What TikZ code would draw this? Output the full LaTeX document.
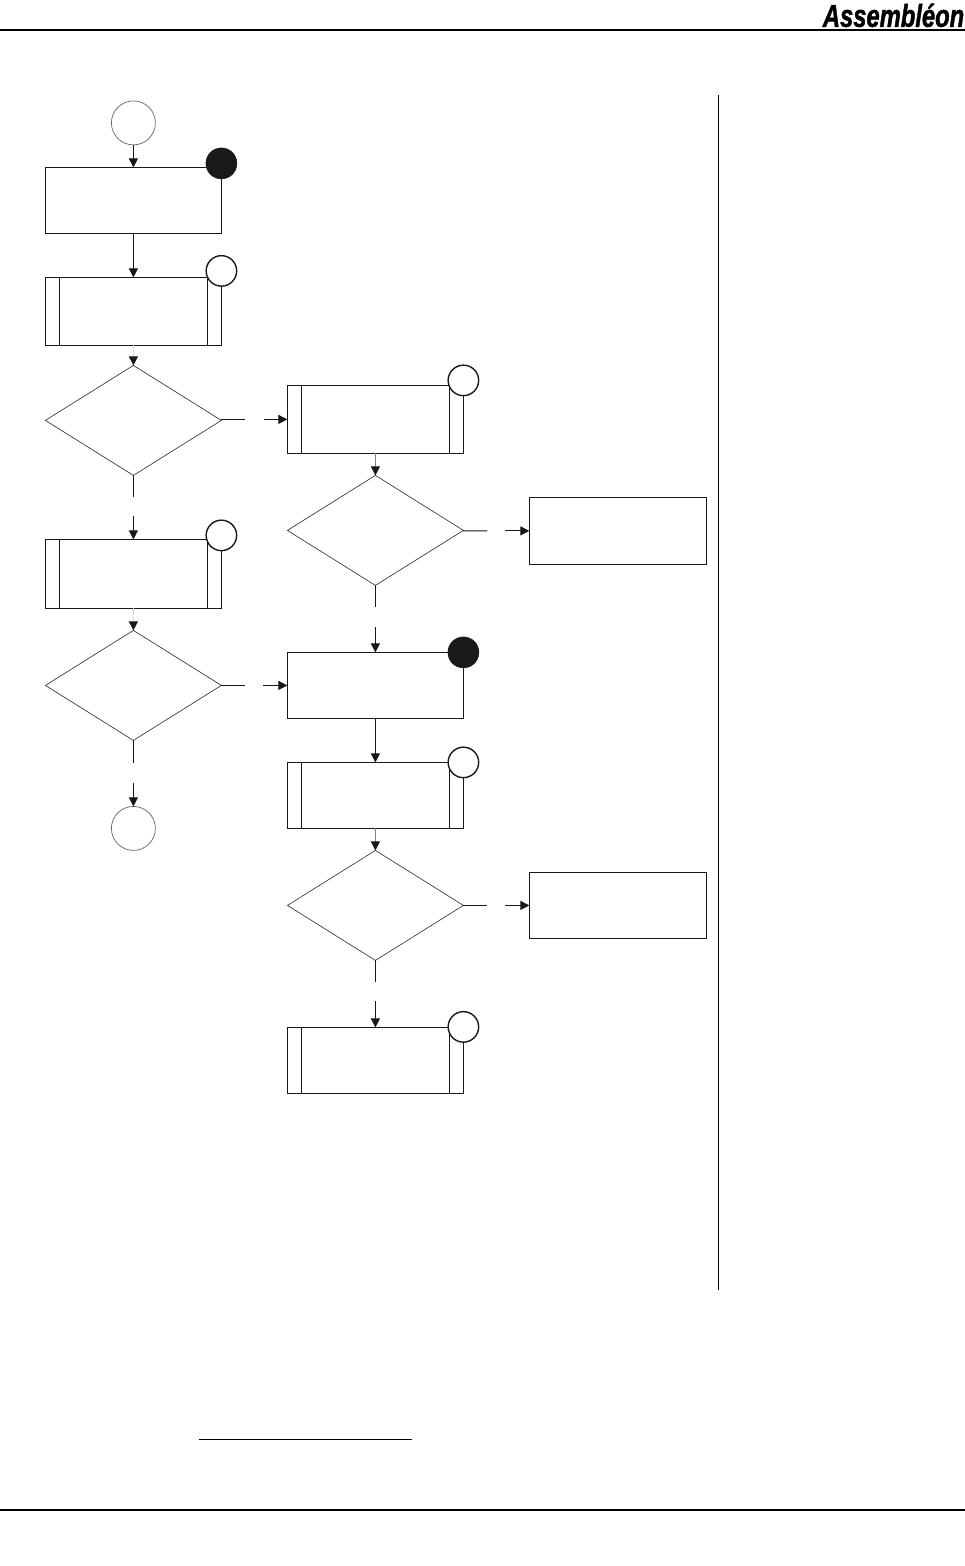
\documentclass[tikz,border=0pt]{standalone}
\usepackage{fontspec}
\setmainfont{Liberation Sans}
\newfontfamily\logofont{Liberation Sans Bold Italic}[FakeBold=1.6]
\usetikzlibrary{shapes.geometric,arrows.meta}
\tikzset{
  x=1pt,y=-1pt,
  boxnode/.style={draw=black!90,line width=0.9pt,rectangle,inner sep=0pt,outer sep=0pt,minimum width=176pt,minimum height=#1},
  boxnode/.default=67pt,
  subnode/.style={boxnode=#1,path picture={
    \draw[line width=0.9pt,draw=black!90] ([xshift=14pt]path picture bounding box.north west)--([xshift=14pt]path picture bounding box.south west);
    \draw[line width=0.9pt,draw=black!90] ([xshift=-14pt]path picture bounding box.north east)--([xshift=-14pt]path picture bounding box.south east);}},
  subnode/.default=68pt,
  decision/.style={draw=black!75,line width=0.7pt,diamond,aspect=1.6,inner sep=0pt,outer sep=0pt,minimum width=176pt,minimum height=110pt},
  term/.style={draw=black!60,line width=0.7pt,circle,fill=white,inner sep=0pt,outer sep=0pt,minimum size=44pt},
  markblack/.style={draw=black!90,fill=black!90,line width=0.5pt,circle,inner sep=0pt,outer sep=0pt,minimum size=31pt},
  markwhite/.style={draw=black!90,fill=white,line width=1.4pt,circle,inner sep=0pt,outer sep=0pt,minimum size=30.5pt},
  flow/.style={line width=0.9pt,draw=black!90,-{Triangle[length=9pt,width=9pt,color=black!90,fill=black!90]}},
  flowpale/.style={line width=0.9pt,draw=#1,-{Triangle[length=9pt,width=9pt,color=black!90,fill=black!90]}},
  flowpale/.default=black!15,
  plain/.style={line width=0.9pt,draw=black!90},
  rule/.style={line width=2pt,draw=black},
  thinrule/.style={line width=0.9pt,draw=black},
}
\begin{document}
\begin{tikzpicture}
\useasboundingbox (0,0) rectangle (965,1566);
\begin{scope}[shift={(0.4,0.4)}]
% page furniture
\coordinate (tl) at (-1,30); \coordinate (tr) at (966,30);
\coordinate (bl) at (-1,1510); \coordinate (br) at (966,1510);
\coordinate (vt) at (718,95); \coordinate (vb) at (718,1290);
\coordinate (fl) at (199,1439); \coordinate (fr) at (412,1439);
\draw[rule] (tl)--(tr);
\draw[rule] (bl)--(br);
\draw[thinrule] (vt)--(vb);
\draw[thinrule] (fl)--(fr);
\node[anchor=east,inner sep=0pt] (logo) at (964,15) {\scalebox{1.32}[1.75]{\logofont\fontsize{18}{18}\selectfont Assembl\'eon}};
% left column
\node[term] (start) at (133,122.5) {};
\node[boxnode=66pt] (b1) at (133,200) {};
\node[subnode=68pt] (s1) at (133,311) {};
\node[decision] (d1) at (133,420) {};
\node[subnode=69pt] (s2) at (133,573.5) {};
\node[decision] (d2) at (133,685) {};
\node[term] (end) at (133,828) {};
% middle column
\node[subnode=68pt] (s3) at (375,419) {};
\node[decision] (d3) at (375,530) {};
\node[boxnode=66pt] (b2) at (375,685) {};
\node[subnode=66pt] (s4) at (375,795) {};
\node[decision] (d4) at (375,905) {};
\node[subnode=66pt] (s5) at (375,1060) {};
% right column
\node[boxnode=67pt,minimum width=177pt] (r1) at (617.5,530.5) {};
\node[boxnode=66pt,minimum width=177pt] (r2) at (617.5,905) {};
% connector break points
\coordinate (g1a) at (245,419); \coordinate (g1b) at (264,419);
\coordinate (g2a) at (133,497); \coordinate (g2b) at (133,516);
\coordinate (g3a) at (487,530.5); \coordinate (g3b) at (505,530.5);
\coordinate (g4a) at (245,685); \coordinate (g4b) at (263,685);
\coordinate (g5a) at (133,763); \coordinate (g5b) at (133,783);
\coordinate (g6a) at (375,607); \coordinate (g6b) at (375,627);
\coordinate (g7a) at (487,905); \coordinate (g7b) at (505,905);
\coordinate (g8a) at (375,982); \coordinate (g8b) at (375,1001);
% connectors
\draw[flow] (start)--(b1);
\draw[flow] (b1)--(s1);
\draw[flowpale] (s1)--(d1);
\draw[plain] (d1.east |- g1a)--(g1a);
\draw[flow] (g1b)--(s3);
\draw[plain] (d1)--(g2a);
\draw[flow] (g2b)--(s2);
\draw[flowpale] (s2)--(d2);
\draw[plain] (d2)--(g4a);
\draw[flow] (g4b)--(b2);
\draw[plain] (d2)--(g5a);
\draw[flow] (g5b)--(end);
\draw[flowpale=black!50] (s3)--(d3);
\draw[plain] (d3)--(g3a);
\draw[flow] (g3b)--(r1);
\draw[plain] (d3)--(g6a);
\draw[flow] (g6b)--(b2);
\draw[flow] (b2)--(s4);
\draw[flowpale=black!50] (s4)--(d4);
\draw[plain] (d4)--(g7a);
\draw[flow] (g7b)--(r2);
\draw[plain] (d4)--(g8a);
\draw[flow] (g8b)--(s5);
% markers
\node[markblack] (m1) at (221,163) {};
\node[markwhite] (m2) at (221,270.5) {};
\node[markwhite] (m3) at (221,535) {};
\node[markwhite] (m4) at (463,380) {};
\node[markblack] (m5) at (463,652) {};
\node[markwhite] (m6) at (463,762) {};
\node[markwhite] (m7) at (463,1026.5) {};
\end{scope}
\end{tikzpicture}
\end{document}
